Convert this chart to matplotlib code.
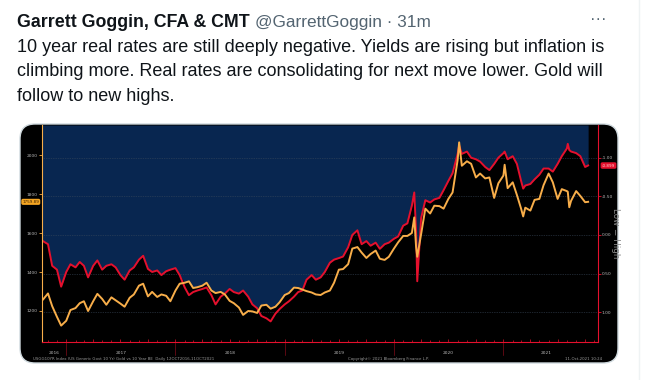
import matplotlib.pyplot as plt
import matplotlib.dates as mdates
from matplotlib.patches import FancyBboxPatch, Rectangle
import numpy as np
import pandas as pd

# semi-monthly samples: 12 Oct 2016, then the 1st and 15th of each month, then 11 Oct 2021
gold_2016 = [1255, 1258, 1290, 1225, 1170, 1125]
gold_2017 = [1150, 1205, 1215, 1240, 1250, 1200, 1250, 1288, 1262, 1232, 1270, 1255,
             1238, 1222, 1268, 1285, 1330, 1340, 1275, 1298, 1272, 1285, 1278, 1250]
gold_2018 = [1305, 1340, 1345, 1352, 1318, 1322, 1330, 1345, 1305, 1292, 1298, 1285,
             1252, 1240, 1218, 1180, 1200, 1198, 1190, 1228, 1232, 1212, 1222, 1245]
gold_2019 = [1282, 1292, 1320, 1318, 1310, 1302, 1295, 1285, 1282, 1295, 1305, 1345,
             1412, 1415, 1440, 1520, 1528, 1500, 1472, 1492, 1510, 1468, 1462, 1478]
gold_2020 = [1520, 1552, 1585, 1585, 1600, 1530, 1595, 1725, 1700, 1740, 1738, 1725,
             1775, 1808, 1975, 1945, 1968, 1955, 1885, 1905, 1880, 1885, 1780, 1855]
gold_2021 = [1895, 1830, 1860, 1795, 1725, 1730, 1715, 1770, 1775, 1845, 1905, 1860,
             1775, 1825, 1815, 1765, 1815, 1790, 1758, 1760]

real_2016 = [0.07, 0.08, 0.12, 0.40, 0.45, 0.67]
real_2017 = [0.48, 0.38, 0.42, 0.35, 0.40, 0.55, 0.40, 0.33, 0.45, 0.40, 0.38, 0.42,
             0.52, 0.58, 0.46, 0.42, 0.32, 0.27, 0.44, 0.48, 0.46, 0.52, 0.47, 0.45]
real_2018 = [0.43, 0.52, 0.68, 0.78, 0.74, 0.72, 0.70, 0.68, 0.78, 0.90, 0.80, 0.76,
             0.70, 0.74, 0.76, 0.72, 0.80, 0.90, 0.95, 1.05, 1.08, 1.12, 1.02, 0.96]
real_2019 = [0.90, 0.86, 0.80, 0.74, 0.72, 0.58, 0.52, 0.58, 0.55, 0.48, 0.36, 0.32,
             0.30, 0.28, 0.16, 0.00, -0.06, 0.12, 0.08, 0.14, 0.10, 0.18, 0.12, 0.10]
real_2020 = [0.05, 0.02, -0.12, -0.15, -0.38, -0.05, -0.22, -0.45, -0.42, -0.46, -0.48, -0.58,
             -0.70, -0.80, -1.05, -1.05, -1.08, -1.00, -0.98, -0.95, -0.88, -0.84, -0.92, -1.00]
real_2021 = [-1.06, -0.98, -1.02, -0.92, -0.70, -0.64, -0.66, -0.72, -0.78, -0.86, -0.86, -0.82,
             -0.92, -1.02, -1.12, -1.08, -1.06, -1.02, -0.88, -0.90]

# single days with sharp moves
extra_dates = ['2020-03-09', '2020-03-19', '2020-08-06', '2021-01-05', '2021-03-08', '2021-08-04', '2021-08-09']
extra_gold = [1680, 1478, 2065, 1950, 1685, 1812, 1732]
extra_real = [-0.55, 0.60, -1.16, -1.08, -0.60, -1.18, -1.10]

dates = ([pd.Timestamp('2016-10-12')]
         + list(pd.date_range('2016-10-15', '2021-10-01', freq='SMS'))
         + [pd.Timestamp('2021-10-11')])
gold = gold_2016 + gold_2017 + gold_2018 + gold_2019 + gold_2020 + gold_2021
real = real_2016 + real_2017 + real_2018 + real_2019 + real_2020 + real_2021
assert len(dates) == len(gold) == len(real), (len(dates), len(gold), len(real))

df = pd.DataFrame({'date': dates + list(pd.to_datetime(extra_dates)),
                   'gold': gold + extra_gold, 'real': real + extra_real})
df = df.sort_values('date').reset_index(drop=True)

gold_ticks = [1200, 1400, 1600, 1800, 2000]
real_ticks = [-1.0, -0.5, 0.0, 0.5, 1.0]
gold_lim = (1041, 2154)
real_lim = (1.387, -1.424)   # inverted: low = high

navy = '#082650'
orange = '#f8ae4a'
red = '#e5102d'
grey = '#b8b8b8'

W, H = 656, 380
fig = plt.figure(figsize=(W / 100, H / 100), dpi=100)
fig.patch.set_facecolor('white')

# full-figure canvas in pixel units for the tweet
bg = fig.add_axes([0, 0, 1, 1])
bg.set_xlim(0, W)
bg.set_ylim(H, 0)
bg.axis('off')
bg.set_zorder(-1)

tfont = 'Liberation Sans'
bg.text(17, 27, 'Garrett Goggin, CFA & CMT', fontsize=12.8, weight='bold',
        color='#0f1419', family=tfont, va='baseline')
bg.text(255, 27, '@GarrettGoggin · 31m', fontsize=12.4, color='#536471',
        family=tfont, va='baseline')
bg.text(598, 24, '···', fontsize=12, color='#536471', family=tfont, va='baseline', ha='center')
body = ['10 year real rates are still deeply negative. Yields are rising but inflation is',
        'climbing more. Real rates are consolidating for next move lower. Gold will',
        'follow to new highs.']
for i, line in enumerate(body):
    bg.text(17, 52 + i * 24.3, line, fontsize=13, color='#0f1419', family=tfont, va='baseline')
bg.plot([639, 639], [0, H], color='#eff3f4', lw=1)

# black rounded card of the chart image
bg.add_patch(FancyBboxPatch((20, 124), 598, 239, boxstyle='round,pad=0,rounding_size=15',
                            facecolor='black', edgecolor='#cfd9de', lw=1))

# chart axes (pixels 42..598 x 125..342)
rect = [42 / W, 1 - 342 / H, (598 - 42) / W, (342 - 125) / H]
ax = fig.add_axes(rect)
ax2 = ax.twinx()
ax.set_zorder(2)
ax2.set_zorder(1)
ax.patch.set_visible(False)
ax2.set_facecolor('black')

ax.set_xlim(pd.Timestamp('2016-10-12'), pd.Timestamp('2021-11-13'))
ax.set_ylim(*gold_lim)
ax2.set_ylim(*real_lim)

# navy above whichever line is higher on the chart
fg = (df['gold'] - gold_lim[0]) / (gold_lim[1] - gold_lim[0])
fr = (real_lim[0] - df['real']) / (real_lim[0] - real_lim[1])
upper = real_lim[0] - np.maximum(fg, fr) * (real_lim[0] - real_lim[1])
ax2.fill_between(df['date'], upper, real_lim[1], color=navy, lw=0, zorder=1)

ax2.plot(df['date'], df['real'], color=red, lw=1.4, zorder=2)
ax.plot(df['date'], df['gold'], color=orange, lw=1.4, zorder=2)

# grid
ax2.set_axisbelow('line')
ax2.xaxis.set_major_locator(mdates.MonthLocator(bymonth=[1, 4, 7, 10]))
ax2.grid(True, color='#3b4a5c', lw=0.5, ls=(0, (1, 1.5)))
ax2.set_yticks(real_ticks)

# axes styling
ax.set_yticks(gold_ticks)
ax.set_yticklabels([str(t) for t in gold_ticks])
ax.tick_params(axis='y', colors=orange, labelcolor=grey, labelsize=3.2, length=2, width=0.6, pad=1)
ax2.set_yticklabels([f'{t:.2f}' for t in real_ticks])
ax2.tick_params(axis='y', colors=red, labelcolor=grey, labelsize=3.2, length=2, width=0.6, pad=0.6)

ax.xaxis.set_major_locator(mdates.MonthLocator(bymonth=[1, 4, 7, 10]))
ax.xaxis.set_minor_locator(mdates.MonthLocator())
ax.xaxis.set_major_formatter(plt.NullFormatter())
ax.tick_params(axis='x', which='both', colors=red, direction='in', length=1.5, width=0.5)
ax.tick_params(axis='x', which='major', length=2.5)

ax.spines['top'].set_visible(False)
ax.spines['left'].set_color(orange)
ax.spines['bottom'].set_color(red)
ax.spines['right'].set_color(red)
for s in ax.spines.values():
    s.set_linewidth(0.8)
for s in ax2.spines.values():
    s.set_visible(False)

# year boundary marks and year labels
trans = ax.get_xaxis_transform()
start, end = df['date'].iloc[0], df['date'].iloc[-1]
for yr in range(2016, 2022):
    a = max(start, pd.Timestamp(f'{yr}-01-01'))
    b = min(end, pd.Timestamp(f'{yr}-12-31'))
    ax.text(a + (b - a) / 2, -0.05, str(yr), transform=trans, ha='center', va='center',
            fontsize=3.2, color=grey)
    if yr > 2016:
        ax.plot([pd.Timestamp(f'{yr}-01-01')] * 2, [0, -0.06], transform=trans,
                color='#a0101f', lw=0.4, clip_on=False)

# last-price tags
ax.text(-0.005, 1759.89, '1759.89', transform=ax.get_yaxis_transform(), ha='right', va='center',
        fontsize=3, color='#3a2000',
        bbox=dict(boxstyle='round,pad=0.25,rounding_size=0.4', fc='#f5a623', ec='none'))
ax2.text(1.007, -0.899, '-0.899', transform=ax2.get_yaxis_transform(), ha='left', va='center',
         fontsize=3, color='#ffd0d0',
         bbox=dict(boxstyle='round,pad=0.3,rounding_size=0.4', fc=red, ec='none'))
bg.text(615.3, 233, 'Low = High', rotation=270, ha='center', va='center', fontsize=6.3,
        color='#8a8a8a', family='DejaVu Sans')

# legend
bg.add_patch(Rectangle((65, 142), 132, 15, facecolor='#303030', edgecolor='none', alpha=0.9))
bg.add_patch(Rectangle((67, 144.5), 4, 4, facecolor=orange))
bg.add_patch(Rectangle((67, 151), 4, 4, facecolor=red))
bg.text(74, 146.7, 'XAU Curncy - Last Price (L1)', fontsize=3, va='center', color='#505050',
        bbox=dict(boxstyle='square,pad=0.15', fc='#e0e0e0', ec='none'))
bg.text(195, 146.7, '1759.89', fontsize=3, va='center', ha='right', color='#dddddd')
bg.text(74, 153.2, 'USGG10YR Index - USGGBE10 Index (R1) -0.899', fontsize=3, va='center',
        color='#dddddd')

# footer
bg.text(33, 359, 'USGG10YR Index (US Generic Govt 10 Yr) Gold vs 10 Year BE  Daily 12OCT2016-11OCT2021',
        fontsize=2.8, color='#9a9a9a', va='center')
bg.text(348, 359, 'Copyright\u00a9 2021 Bloomberg Finance L.P.', fontsize=2.8, color='#9a9a9a', va='center')
bg.text(565, 359, '11-Oct-2021 10:24', fontsize=2.8, color='#9a9a9a', va='center')

fig.savefig('out.png', dpi=100, facecolor='white')
